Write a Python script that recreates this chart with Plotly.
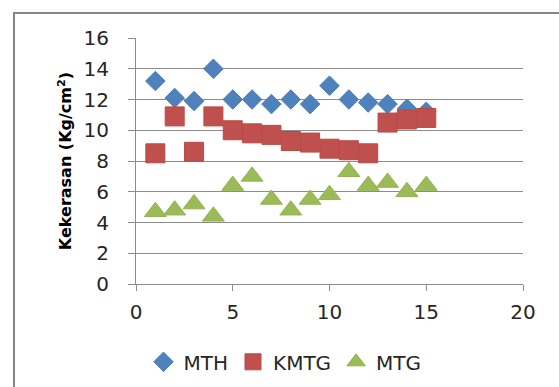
import plotly.graph_objects as go

# Sample number on the x axis
sample = list(range(1, 16))

# Hardness (Kg/cm²) per treatment
mth = [13.2, 12.1, 11.9, 14.0, 12.0, 12.0, 11.7, 12.0, 11.7, 12.9, 12.0, 11.8, 11.7, 11.4, 11.2]
kmtg = [8.5, 10.9, 8.6, 10.9, 10.0, 9.8, 9.7, 9.3, 9.2, 8.8, 8.7, 8.5, 10.5, 10.7, 10.8]
mtg = [4.7, 4.8, 5.2, 4.4, 6.4, 7.0, 5.5, 4.8, 5.5, 5.8, 7.3, 6.4, 6.6, 6.0, 6.4]

W, H = 559, 387
L, R, T, B = 136, 36, 38, 103
pw, ph = W - L - R, H - T - B

FONT = "DejaVu Sans, sans-serif"
GRID = "#8c8c8c"

fig = go.Figure()
fig.add_trace(go.Scatter(
    x=sample, y=mth, mode="markers", name="MTH",
    marker=dict(symbol="diamond", size=15, color="#4F81BD",
                line=dict(color="#4A7DBA", width=1)),
))
fig.add_trace(go.Scatter(
    x=sample, y=kmtg, mode="markers", name="KMTG",
    marker=dict(symbol="square", size=19, color="#C0504D",
                line=dict(color="#B84A47", width=1)),
))
fig.add_trace(go.Scatter(
    x=sample, y=mtg, mode="markers", name="MTG",
    marker=dict(symbol="triangle-up", size=19, color="#9BBB59",
                line=dict(color="#93B352", width=1)),
))


def px_x(v):
    return (v - L) / pw


def px_y(v):
    return (H - B - v) / ph


# outer chart frame
fig.add_shape(type="rect", xref="paper", yref="paper",
              x0=px_x(14), x1=px_x(W + 5), y0=px_y(H + 5), y1=px_y(13),
              line=dict(color="#868686", width=2), fillcolor="rgba(0,0,0,0)",
              layer="below")

fig.update_layout(
    width=W, height=H,
    margin=dict(l=L, r=R, t=T, b=B, autoexpand=False),
    paper_bgcolor="white", plot_bgcolor="white",
    font=dict(family=FONT, size=20, color="#262626"),
    showlegend=True,
    legend=dict(orientation="h", x=0.385, xanchor="center", y=-0.237, yanchor="top",
                font=dict(size=20), itemwidth=30,
                tracegroupgap=0, bgcolor="rgba(0,0,0,0)"),
    xaxis=dict(range=[0, 20], tickvals=[0, 5, 10, 15, 20], showgrid=False,
               zeroline=False, showline=True, linecolor=GRID, linewidth=1,
               ticks="outside", ticklen=6, tickcolor=GRID,
               ticklabelstandoff=4, automargin=False),
    yaxis=dict(range=[0, 16], tickvals=list(range(0, 17, 2)), showgrid=True,
               gridcolor=GRID, gridwidth=1, zeroline=False, showline=True,
               linecolor=GRID, linewidth=1, ticks="outside", ticklen=7,
               tickcolor=GRID, ticklabelstandoff=15, automargin=False,
               title=dict(text="<b>Kekerasan (Kg/cm<sup>2</sup>)</b>",
                          font=dict(size=16, color="#000000"), standoff=7)),
)

fig.write_html("out.html")
